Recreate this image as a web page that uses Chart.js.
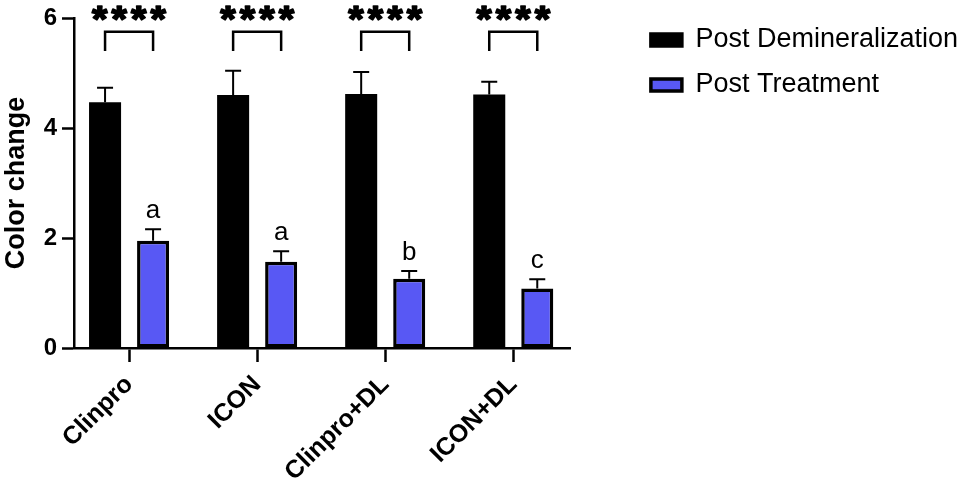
<!DOCTYPE html>
<html><head><meta charset="utf-8">
<script src="https://cdn.jsdelivr.net/npm/chart.js@4.4.0/dist/chart.umd.min.js"></script>
<style>html,body{margin:0;padding:0;background:#fff}canvas{display:block}</style>
</head><body>
<canvas id="c" width="968" height="480"></canvas>
<script>
// ---- data ----
const categories = ['Clinpro', 'ICON', 'Clinpro+DL', 'ICON+DL'];
const seriesNames = ['Post Demineralization', 'Post Treatment'];
const postDemineralization = [4.47, 4.60, 4.62, 4.61];
const postDemineralizationErr = [0.26, 0.44, 0.40, 0.23];
const postTreatment = [1.95, 1.57, 1.26, 1.08];
const postTreatmentErr = [0.21, 0.19, 0.14, 0.17];
const treatmentLetters = ['a', 'a', 'b', 'c'];
const significance = ['****', '****', '****', '****'];
const yTicks = [0, 2, 4, 6];
const bracketLevel = [5.75, 5.75, 5.75, 5.75];
const bracketLeg = 0.35;

const FONT = 'Arial, "Liberation Sans", Helvetica, sans-serif';
const BLUE = '#5858F4';

const annot = {
  id: 'annot',
  afterDatasetsDraw(chart) {
    const ctx = chart.ctx;
    const y = chart.scales.y;
    const m0 = chart.getDatasetMeta(0), m1 = chart.getDatasetMeta(1);
    ctx.save();
    ctx.strokeStyle = '#000'; ctx.fillStyle = '#000';
    ctx.lineCap = 'butt';
    [[m0, postDemineralization, postDemineralizationErr], [m1, postTreatment, postTreatmentErr]].forEach(([meta, vals, errs]) => {
      meta.data.forEach((bar, i) => {
        const top = y.getPixelForValue(vals[i]);
        const e = y.getPixelForValue(vals[i] + errs[i]);
        ctx.lineWidth = 2;
        ctx.beginPath();
        ctx.moveTo(bar.x, top); ctx.lineTo(bar.x, e);
        ctx.moveTo(bar.x - 8, e); ctx.lineTo(bar.x + 8, e);
        ctx.stroke();
      });
    });
    ctx.font = '26px ' + FONT;
    ctx.textAlign = 'center'; ctx.textBaseline = 'alphabetic';
    m1.data.forEach((bar, i) => {
      const e = y.getPixelForValue(postTreatment[i] + postTreatmentErr[i]);
      ctx.fillText(treatmentLetters[i], bar.x, e - 11);
    });
    // brackets + stars
    ctx.lineWidth = 2.5;
    m0.data.forEach((bar, i) => {
      const x1 = bar.x, x2 = m1.data[i].x;
      const yt = y.getPixelForValue(bracketLevel[i]);
      const yb = y.getPixelForValue(bracketLevel[i] - bracketLeg);
      ctx.beginPath();
      ctx.moveTo(x1, yb); ctx.lineTo(x1, yt); ctx.lineTo(x2, yt); ctx.lineTo(x2, yb);
      ctx.stroke();
    });
    ctx.font = 'bold 36px ' + FONT;
    ctx.lineWidth = 1.6;
    ctx.lineJoin = 'round';
    m0.data.forEach((bar, i) => {
      const x1 = bar.x, x2 = m1.data[i].x;
      const yt = y.getPixelForValue(bracketLevel[i]);
      const mid = (x1 + x2) / 2;
      const s = significance[i];
      const pitch = 19.5;
      for (let k = 0; k < s.length; k++) {
        ctx.save();
        ctx.translate(mid + (k - (s.length - 1) / 2) * pitch, yt);
        ctx.scale(1.1, 1);
        ctx.fillText(s[k], 0, 0);
        ctx.strokeText(s[k], 0, 0);
        ctx.restore();
      }
    });
    ctx.restore();
  }
};

new Chart(document.getElementById('c'), {
  type: 'bar',
  data: {
    datasets: [
      {
        label: seriesNames[0],
        data: categories.map((c, i) => ({x: i, y: postDemineralization[i]})),
        backgroundColor: '#000', borderColor: '#000', borderWidth: 0, borderSkipped: false
      },
      {
        label: seriesNames[1],
        data: categories.map((c, i) => ({x: i, y: postTreatment[i]})),
        backgroundColor: BLUE, borderColor: '#000', borderWidth: 3.5, borderSkipped: false
      }
    ]
  },
  options: {
    responsive: false,
    animation: false,
    categoryPercentage: 0.75,
    barPercentage: 0.667,
    layout: {padding: {top: 8.5, right: 0, bottom: 0, left: 0}},
    scales: {
      x: {
        type: 'linear',
        min: -0.43, max: 3.45,
        offset: false,
        afterBuildTicks(s) { s.ticks = categories.map((c, i) => ({value: i})); },
        afterFit(s) { s.height = 132; },
        grid: {display: true, drawOnChartArea: false, drawTicks: true, tickLength: 14, tickWidth: 2.5, tickColor: '#000', offset: false},
        border: {display: true, color: '#000', width: 2.5},
        ticks: {
          autoSkip: false, minRotation: 45, maxRotation: 45, padding: 8,
          color: '#000', font: {family: FONT, size: 25, weight: 'bold'},
          callback: (v) => categories[v]
        }
      },
      y: {
        min: 0, max: 6,
        afterBuildTicks(s) { s.ticks = yTicks.map(v => ({value: v})); },
        afterFit(s) { s.width = 74; s.paddingTop = 18; },
        grid: {display: true, drawOnChartArea: false, drawTicks: true, tickLength: 12, tickWidth: 2.5, tickColor: '#000'},
        border: {display: true, color: '#000', width: 2.5},
        ticks: {color: '#000', padding: 5, font: {family: FONT, size: 24, weight: 'bold'}},
        title: {display: true, text: 'Color change', color: '#000', padding: 0, font: {family: FONT, size: 27, weight: 'bold'}}
      },
      pad: {
        type: 'linear', position: 'right', display: true,
        grid: {display: false, drawTicks: false}, border: {display: false},
        ticks: {display: false},
        afterFit(s) { s.width = 62; }
      }
    },
    plugins: {
      legend: {
        position: 'right', align: 'start', maxWidth: 420,
        labels: {
          color: '#000', boxWidth: 31, boxHeight: 12, padding: 18,
          font: {family: FONT, size: 27},
          generateLabels(chart) {
            const items = Chart.defaults.plugins.legend.labels.generateLabels(chart);
            items.forEach(it => { it.lineWidth = 3.5; it.strokeStyle = '#000'; });
            return items;
          }
        }
      },
      tooltip: {enabled: false}
    }
  },
  plugins: [annot]
});
</script>
</body></html>
